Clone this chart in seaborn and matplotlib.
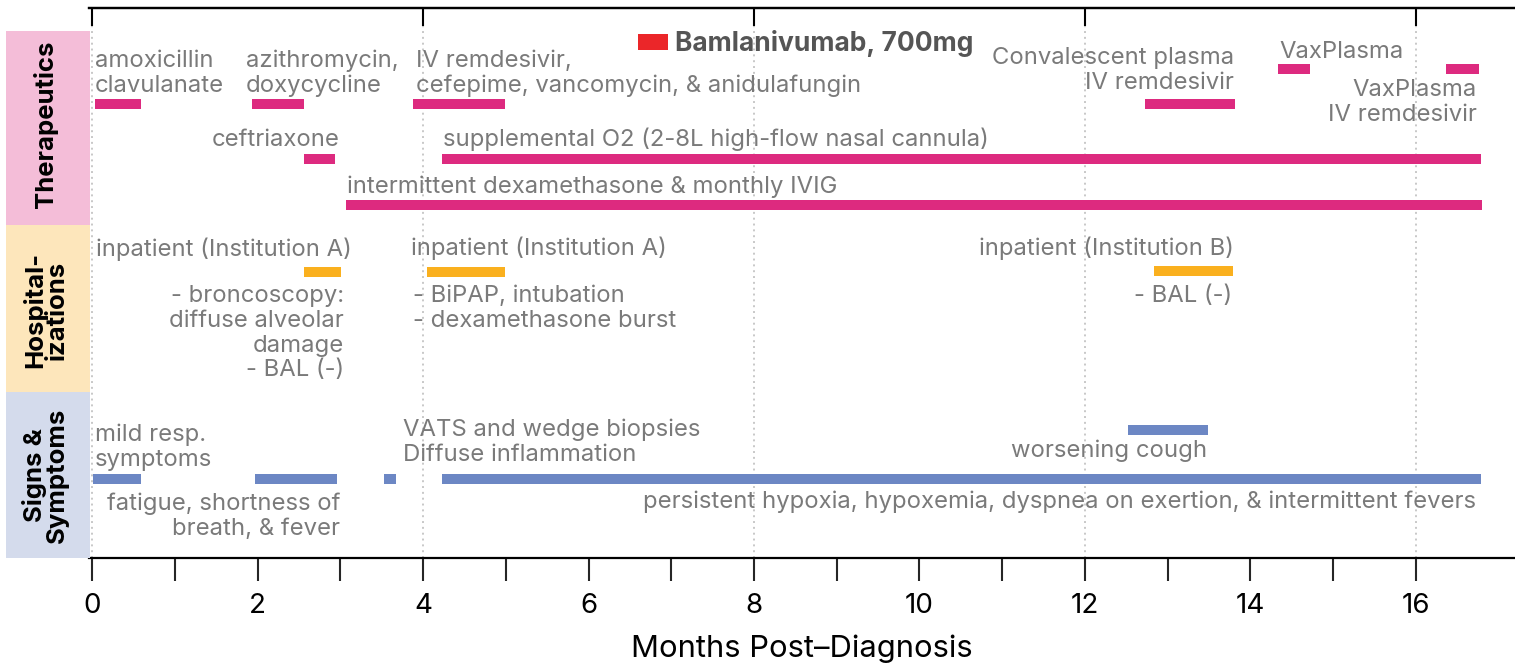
import matplotlib
matplotlib.use("Agg")
import matplotlib.pyplot as plt
import seaborn as sns
import pandas as pd

# ---------------- data ----------------
ther_labels = ["amoxicillin clavulanate", "azithromycin, doxycycline", "ceftriaxone",
               "IV remdesivir, cefepime, vancomycin, & anidulafungin",
               "supplemental O2 (2-8L high-flow nasal cannula)",
               "intermittent dexamethasone & monthly IVIG", "Bamlanivumab, 700mg",
               "Convalescent plasma, IV remdesivir", "VaxPlasma", "VaxPlasma, IV remdesivir"]
ther_start = [0.03, 1.93, 2.56, 3.88, 4.23, 3.07, 6.60, 12.73, 14.34, 16.37]
ther_end = [0.59, 2.56, 2.93, 4.99, 16.79, 16.80, 6.96, 13.81, 14.72, 16.76]

hosp_labels = ["inpatient (Institution A)", "inpatient (Institution A)", "inpatient (Institution B)"]
hosp_start = [2.56, 4.05, 12.83]
hosp_end = [3.01, 4.99, 13.79]

sign_labels = ["mild resp. symptoms", "fatigue, shortness of breath, & fever",
               "VATS and wedge biopsies", "persistent hypoxia", "worsening cough"]
sign_start = [0.01, 1.97, 3.53, 4.23, 12.52]
sign_end = [0.59, 2.96, 3.67, 16.79, 13.49]

categories = ["Therapeutics", "Hospital-\nizations", "Signs &\nSymptoms"]
month_ticks = list(range(0, 17))
month_tick_labels = [str(m) if m % 2 == 0 else "" for m in month_ticks]
grid_months = [0, 4, 8, 12, 16]
x_label = "Months Post\u2013Diagnosis"

annotations = [
    "amoxicillin\nclavulanate", "azithromycin,\ndoxycycline",
    "IV remdesivir,\ncefepime, vancomycin, & anidulafungin", "ceftriaxone",
    "supplemental O2 (2-8L high-flow nasal cannula)",
    "intermittent dexamethasone & monthly IVIG",
    "Convalescent plasma\nIV remdesivir", "VaxPlasma", "VaxPlasma\nIV remdesivir",
    "inpatient (Institution A)", "- broncoscopy:\ndiffuse alveolar\ndamage\n- BAL (-)",
    "inpatient (Institution A)", "- BiPAP, intubation\n- dexamethasone burst",
    "inpatient (Institution B)", "- BAL (-)",
    "mild resp.\nsymptoms", "fatigue, shortness of\nbreath, & fever",
    "VATS and wedge biopsies\nDiffuse inflammation", "worsening cough",
    "persistent hypoxia, hypoxemia, dyspnea on exertion, & intermittent fevers",
]
highlight_text = "Bamlanivumab, 700mg"

# ---------------- layout (positions / styles) ----------------
ther_lane = [104, 104, 159, 104, 159, 205, 42, 104, 69, 69]
ther_h = [10, 10, 10, 10, 10, 10, 16, 10, 10, 10]
hosp_lane = [272, 272, 271]
sign_lane = [479, 479, 479, 479, 430]

ann_pos = [  # (x in months, first baseline, ha)
    (0.033, 67, "left"), (1.86, 67, "left"), (3.914, 67, "left"), (2.995, 146, "right"),
    (4.24, 146, "left"), (3.08, 193, "left"),
    (13.80, 64, "right"), (14.35, 58, "left"), (16.74, 96, "right"),
    (0.045, 256, "left"), (3.044, 302, "right"),
    (3.853, 255, "left"), (3.878, 302, "left"),
    (13.80, 255, "right"), (13.78, 302, "right"),
    (0.033, 441, "left"), (2.995, 510, "right"),
    (3.757, 436, "left"), (13.48, 457, "right"), (16.73, 508, "right"),
]
hl_pos = (7.046, 51)
line_step = 24.8
cat_centers = [124, 310, 475]

c_ther, c_hosp, c_sign, c_red = "#DD2A7F", "#FAB01E", "#6C87C4", "#EB2629"
box_cols = ["#F4BDD8", "#FDE6BB", "#D4DBEC"]
box_spans = [(31, 225), (225, 392), (392, 558)]
txt_col = "#7a7a7a"

sns.set_theme(style="white")
plt.rcParams["font.family"] = ["Inter", "DejaVu Sans"]

W, H = 1515, 663
fig = plt.figure(figsize=(W / 100, H / 100), dpi=100)
ax = fig.add_axes([89 / W, (H - 558) / H, (W - 89) / W, 550 / H])
axl = fig.add_axes([6 / W, (H - 558) / H, 84 / W, 550 / H], sharey=ax)

bars = pd.DataFrame({
    "start": ther_start + hosp_start + sign_start,
    "end": ther_end + hosp_end + sign_end,
    "lane": ther_lane + hosp_lane + sign_lane,
    "h": ther_h + [10] * 3 + [10] * 5,
    "color": [c_ther] * 6 + [c_red] + [c_ther] * 3 + [c_hosp] * 3 + [c_sign] * 5,
})
bars["width"] = bars["end"] - bars["start"]

for m in grid_months:
    ax.axvline(m, color="#c8c8c8", lw=1.4, ls=(0, (1, 2)), zorder=0)

ax.barh(bars["lane"], bars["width"], left=bars["start"], height=bars["h"],
        color=bars["color"], zorder=3, linewidth=0)

for text, (x, y, ha) in zip(annotations, ann_pos):
    for i, line in enumerate(text.split("\n")):
        ax.text(x, y + i * line_step, line, ha=ha, va="baseline", fontsize=17.2,
                color=txt_col, zorder=4)
ax.text(hl_pos[0], hl_pos[1], highlight_text, ha="left", va="baseline", fontsize=19,
        fontweight="bold", color="#555555", zorder=4)

ax.set_xlim(-0.04, 17.20)
ax.set_ylim(558, 8)
ax.set_yticks([])
ax.set_xticks(month_ticks)
ax.set_xticklabels(month_tick_labels, fontsize=20, color="black")
ax.tick_params(axis="x", bottom=True, direction="out", length=16.5, width=1.5, pad=9)
for s in ["left", "right"]:
    ax.spines[s].set_visible(False)
ax.spines["bottom"].set_linewidth(1.6)
ax.spines["bottom"].set_color("black")
ax.spines["top"].set_linewidth(1.6)
ax.spines["top"].set_color("black")
ax.set_xlabel(x_label, fontsize=22.3, color="black", labelpad=11)

sec = ax.secondary_xaxis("top")
sec.set_xticks(grid_months)
sec.set_xticklabels([])
sec.tick_params(direction="in", length=13, width=1.5, color="black")
sec.spines["top"].set_linewidth(1.6)
sec.spines["top"].set_color("black")

# category boxes
axl.set_xlim(0, 1)
axl.axis("off")
for cat, (y0, y1), col, yc in zip(categories, box_spans, box_cols, cat_centers):
    axl.axhspan(y0, y1, color=col, lw=0)
    axl.text(0.47, yc, cat, rotation=90, ha="center", va="center",
             fontsize=18.5, fontweight="bold", color="black", linespacing=0.95,
             multialignment="center")

fig.savefig("out.png", dpi=100)
